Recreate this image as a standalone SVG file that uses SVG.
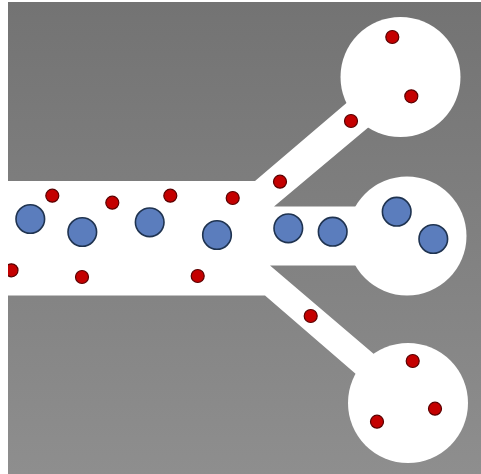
<svg xmlns="http://www.w3.org/2000/svg" width="481" height="474" viewBox="0 0 481 474">
<defs>
<linearGradient id="bg" x1="0" y1="0" x2="0" y2="1">
<stop offset="0" stop-color="#737373"/>
<stop offset="1" stop-color="#8e8e8e"/>
</linearGradient>
<clipPath id="clip"><rect x="8" y="2" width="473" height="472"/></clipPath>
<style>
.ch{fill:#ffffff}
.blue{fill:#5b7dbd;stroke:#1f3350;stroke-width:1.6}
.red{fill:#c40000;stroke:#5a0000;stroke-width:1.2}
</style>
</defs>
<rect x="0" y="0" width="481" height="474" fill="#ffffff"/>
<g clip-path="url(#clip)">
<rect x="8" y="2" width="473" height="472" fill="url(#bg)"/>
<g id="channels">
<polygon class="ch" points="0,181 255,181 350,100 370,126 274,206.5 362,206.5 362,265.5 270,265.5 375,355 357,375 265,295.5 0,295.5"/>
<circle class="ch" cx="400.5" cy="77" r="60"/>
<circle class="ch" cx="407" cy="236" r="59.5"/>
<circle class="ch" cx="408" cy="403" r="60"/>
</g>
<g id="cells-blue">
<circle class="blue" cx="30.3" cy="219" r="14.3"/>
<circle class="blue" cx="82.3" cy="232" r="14.3"/>
<circle class="blue" cx="149.7" cy="222.3" r="14.3"/>
<circle class="blue" cx="217" cy="235" r="14.3"/>
<circle class="blue" cx="288.3" cy="228.3" r="14.3"/>
<circle class="blue" cx="332.7" cy="231.7" r="14.3"/>
<circle class="blue" cx="396.7" cy="211.7" r="14.3"/>
<circle class="blue" cx="433.3" cy="239" r="14.3"/>
</g>
<g id="cells-red">
<circle class="red" cx="52.3" cy="195.7" r="6.5"/>
<circle class="red" cx="112.3" cy="202.7" r="6.5"/>
<circle class="red" cx="170.3" cy="195.7" r="6.5"/>
<circle class="red" cx="232.7" cy="198" r="6.5"/>
<circle class="red" cx="280" cy="181.7" r="6.5"/>
<circle class="red" cx="351" cy="121" r="6.5"/>
<circle class="red" cx="392.3" cy="37" r="6.5"/>
<circle class="red" cx="411.3" cy="96.3" r="6.5"/>
<circle class="red" cx="11.5" cy="270.3" r="6.5"/>
<circle class="red" cx="82" cy="277" r="6.5"/>
<circle class="red" cx="197.7" cy="276" r="6.5"/>
<circle class="red" cx="310.7" cy="316" r="6.5"/>
<circle class="red" cx="412.7" cy="361" r="6.5"/>
<circle class="red" cx="435" cy="408.7" r="6.5"/>
<circle class="red" cx="377" cy="421.7" r="6.5"/>
</g>
</g>
</svg>
